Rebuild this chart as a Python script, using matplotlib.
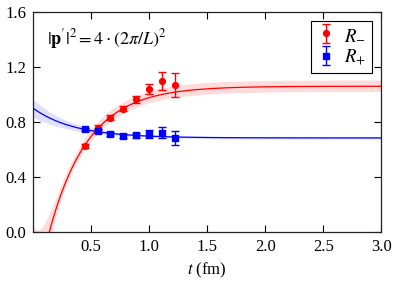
import numpy as np
import matplotlib
matplotlib.use("Agg")
import matplotlib.pyplot as plt

plt.rcParams['font.family'] = ['Liberation Serif', 'DejaVu Serif']
plt.rcParams['mathtext.fontset'] = 'stix'

# lattice data, t in fm
t_pts = [0.444, 0.555, 0.666, 0.777, 0.888, 0.999, 1.110, 1.221]
r_minus = [0.628, 0.759, 0.831, 0.895, 0.965, 1.040, 1.098, 1.071]
r_minus_err = [0.015, 0.017, 0.017, 0.018, 0.027, 0.035, 0.065, 0.088]
r_plus = [0.747, 0.735, 0.713, 0.698, 0.705, 0.713, 0.722, 0.684]
r_plus_err = [0.012, 0.012, 0.014, 0.014, 0.018, 0.030, 0.042, 0.048]

# fit A + B exp(-E t), band half width sqrt(dA^2 + (dB exp(-Eb t))^2)
fit_minus = dict(A=1.06, B=-1.60, E=2.96, dA=0.042, dB=0.6, Eb=12.0)
fit_plus = dict(A=0.684, B=0.216, E=2.81, dA=0.008, dB=0.065, Eb=2.81)

fig = plt.figure(figsize=(3.99, 2.85), dpi=100)
ax = fig.add_axes([0.083, 0.186, 0.873, 0.772])

tt = np.linspace(0.0, 3.0, 600)
for p, col, fc in [(fit_minus, 'red', '#ffb0b0'), (fit_plus, 'blue', '#b8b8ff')]:
    y = p['A'] + p['B'] * np.exp(-p['E'] * tt)
    dy = np.sqrt(p['dA'] ** 2 + (p['dB'] * np.exp(-p['Eb'] * tt)) ** 2)
    ax.fill_between(tt, y - dy, y + dy, color=fc, alpha=0.45, lw=0)
    ax.plot(tt, y, color=col, lw=0.9)

ax.errorbar(t_pts, r_minus, yerr=r_minus_err, fmt='o', color='red', ms=4.2,
            capsize=2.8, elinewidth=1, capthick=1, label=r'$R_{-}$')
ax.errorbar(t_pts, r_plus, yerr=r_plus_err, fmt='s', color='blue', ms=4.0,
            capsize=2.8, elinewidth=1, capthick=1, label=r'$R_{+}$')

ax.text(0.12, 1.40, r"$|\mathbf{p}'|^2 = 4\cdot(2\pi/L)^2$", fontsize=13, va='center')

ax.set_xlim(0, 3.0)
ax.set_ylim(0, 1.6)
ax.set_xticks([0.5, 1.0, 1.5, 2.0, 2.5, 3.0])
ax.set_yticks([0.0, 0.4, 0.8, 1.2, 1.6])
ax.tick_params(direction='in', length=5, width=0.8, top=True, right=True,
               labelsize=12, pad=5)
for s in ax.spines.values():
    s.set_linewidth(0.9)
    s.set_color('#222222')
ax.set_xlabel(r'$t$ (fm)', fontsize=12, labelpad=4)

leg = ax.legend(loc='upper right', fontsize=13.5, fancybox=False, framealpha=1,
                edgecolor='black', handlelength=1.0, handletextpad=0.5,
                borderpad=0.3, labelspacing=0.2, borderaxespad=0,
                bbox_to_anchor=(0.973, 0.959))
leg.get_frame().set_linewidth(0.8)

fig.savefig('out.png', dpi=100)
